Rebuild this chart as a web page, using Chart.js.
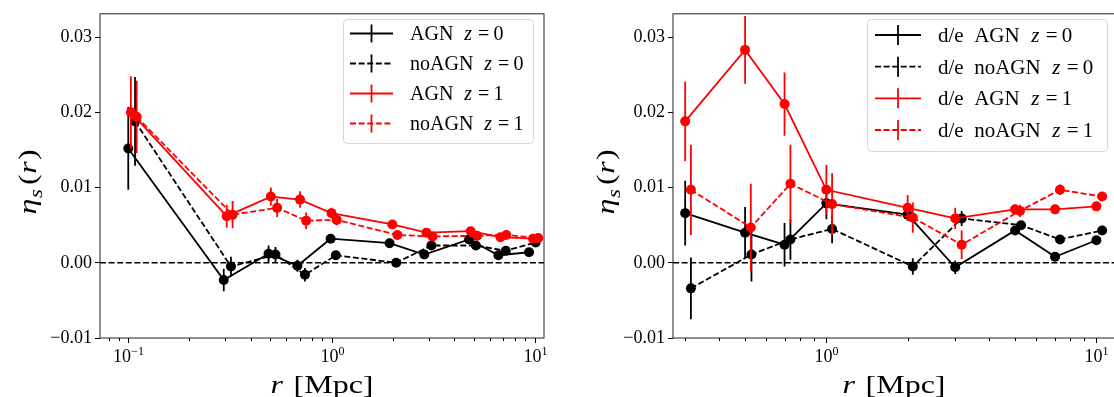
<!DOCTYPE html>
<html>
<head>
<meta charset="utf-8">
<script src="https://cdn.jsdelivr.net/npm/chart.js@4.4.1/dist/chart.umd.min.js"></script>
<style>
  html, body { margin: 0; padding: 0; background: #fff; overflow: hidden; width: 1114px; height: 397px; }
  #stage { position: relative; width: 1114px; height: 397px; overflow: hidden; }
  #leftPanel { position: absolute; left: 0; top: 0; }
  #rightPanel { position: absolute; left: 557px; top: 0; }
</style>
</head>
<body>
<div id="stage">
  <canvas id="leftPanel" width="557" height="397"></canvas>
  <canvas id="rightPanel" width="563" height="397"></canvas>
</div>
<script>
// ---- Left panel: eta_s(r), AGN vs noAGN at z=0 and z=1 ----
const leftAgnZ0R    = [0.100, 0.295, 0.49, 0.68, 0.99, 1.93, 2.86, 4.75, 6.62, 9.37];
const leftAgnZ0Eta  = [0.0152, -0.0023, 0.0012, -0.0004, 0.0032, 0.0026, 0.0011, 0.0031, 0.0010, 0.0014];
const leftAgnZ0Err  = [0.0055, 0.0015, 0.0011, 0.0008, 0.0005, 0.0003, 0.0003, 0.0003, 0.0002, 0.0002];

const leftNoAgnZ0R   = [0.108, 0.32, 0.53, 0.74, 1.05, 2.08, 3.10, 5.13, 7.20, 10.1];
const leftNoAgnZ0Eta = [0.0188, -0.0005, 0.0011, -0.0016, 0.0010, 0.0000, 0.0023, 0.0023, 0.0016, 0.0027];
const leftNoAgnZ0Err = [0.0059, 0.0013, 0.0010, 0.0009, 0.0005, 0.0003, 0.0003, 0.0003, 0.0002, 0.0002];

const leftAgnZ1R    = [0.103, 0.305, 0.503, 0.70, 1.00, 1.99, 2.93, 4.84, 6.78, 9.80];
const leftAgnZ1Eta  = [0.0200, 0.0062, 0.0088, 0.0084, 0.0066, 0.0051, 0.0040, 0.0042, 0.0034, 0.0032];
const leftAgnZ1Err  = [0.0048, 0.0015, 0.0012, 0.0011, 0.0007, 0.0004, 0.0003, 0.0003, 0.0002, 0.0002];

const leftNoAgnZ1R   = [0.110, 0.326, 0.54, 0.75, 1.06, 2.11, 3.14, 5.20, 7.24, 10.4];
const leftNoAgnZ1Eta = [0.0194, 0.0064, 0.0073, 0.0056, 0.0057, 0.0037, 0.0035, 0.0036, 0.0037, 0.0033];
const leftNoAgnZ1Err = [0.0048, 0.0018, 0.0012, 0.0011, 0.0007, 0.0004, 0.0003, 0.0003, 0.0002, 0.0002];

// ---- Right panel: d/e samples ----
const rightAgnZ0R    = [0.30, 0.50, 0.70, 1.00, 2.00, 3.00, 5.00, 7.03, 10.0];
const rightAgnZ0Eta  = [0.0066, 0.0040, 0.0024, 0.0079, 0.0064, -0.0006, 0.0043, 0.0008, 0.0030];
const rightAgnZ0Err  = [0.0043, 0.0034, 0.0029, 0.0021, 0.0008, 0.0009, 0.0004, 0.0003, 0.0003];

const rightNoAgnZ0R   = [0.315, 0.528, 0.736, 1.05, 2.09, 3.17, 5.26, 7.33, 10.5];
const rightNoAgnZ0Eta = [-0.0034, 0.0011, 0.0031, 0.0045, -0.0005, 0.0059, 0.0050, 0.0031, 0.0043];
const rightNoAgnZ0Err = [0.0041, 0.0036, 0.0027, 0.0019, 0.0011, 0.0010, 0.0004, 0.0003, 0.0003];

const rightAgnZ1R    = [0.30, 0.50, 0.70, 1.00, 2.00, 3.00, 5.00, 7.03, 10.0];
const rightAgnZ1Eta  = [0.0188, 0.0283, 0.0211, 0.0097, 0.0073, 0.0059, 0.0071, 0.0071, 0.0075];
const rightAgnZ1Err  = [0.0053, 0.0045, 0.0042, 0.0033, 0.0017, 0.0014, 0.0006, 0.0004, 0.0004];

const rightNoAgnZ1R   = [0.315, 0.525, 0.736, 1.05, 2.09, 3.17, 5.21, 7.33, 10.5];
const rightNoAgnZ1Eta = [0.0097, 0.0047, 0.0105, 0.0078, 0.0060, 0.0024, 0.0069, 0.0097, 0.0088];
const rightNoAgnZ1Err = [0.0060, 0.0058, 0.0052, 0.0041, 0.0020, 0.0019, 0.0008, 0.0007, 0.0003];

// axis ticks and legend text
const yTickValues = [-0.01, 0.00, 0.01, 0.02, 0.03];
const leftLegendLabels  = ['AGN', 'noAGN', 'AGN', 'noAGN'];
const rightLegendLabels = ['d/e  AGN', 'd/e  noAGN', 'd/e  AGN', 'd/e  noAGN'];
const legendRedshifts   = ['0', '0', '1', '1'];

const SERIF = '"Liberation Serif", "DejaVu Serif", "Times New Roman", serif';
const BLACK = '#000000';
const RED = '#ff0000';
const DASH = [6, 2.6];
const LINE_W = 1.8;

function font(size, italic) {
  return (italic ? 'italic ' : '') + size + 'px ' + SERIF;
}

// Rich text: list of segments {t, it, size, dy} or {gap}
function richWidth(ctx, segs) {
  let w = 0;
  for (const s of segs) {
    if (s.gap) { w += s.gap; continue; }
    ctx.font = font(s.size, s.it);
    w += ctx.measureText(s.t).width;
  }
  return w;
}
// draws segments from (x, y) along the baseline; sx widens the run along its direction
function drawRich(ctx, segs, x, y, sx) {
  ctx.save();
  ctx.translate(x, y);
  ctx.scale(sx || 1, 1);
  ctx.fillStyle = '#000';
  ctx.textBaseline = 'alphabetic';
  ctx.textAlign = 'left';
  let cx = 0;
  for (const s of segs) {
    if (s.gap) { cx += s.gap; continue; }
    ctx.font = font(s.size, s.it);
    ctx.fillText(s.t, cx, s.dy || 0);
    cx += ctx.measureText(s.t).width;
  }
  ctx.restore();
}

function series(label, rs, etas, errs, color, dashed, order) {
  return {
    label,
    data: rs.map((r, i) => ({ x: r, y: etas[i] })),
    errs,
    borderColor: color,
    backgroundColor: color,
    borderWidth: LINE_W,
    borderDash: dashed ? DASH : [],
    pointRadius: 5,
    pointHoverRadius: 5,
    pointBorderWidth: 0,
    pointBackgroundColor: color,
    tension: 0,
    fill: false,
    order,
    dashedHandle: dashed
  };
}

const decor = {
  id: 'decor',
  beforeDatasetsDraw(chart) {
    const { ctx, chartArea: a, scales: { y } } = chart;
    const y0 = y.getPixelForValue(0);
    ctx.save();
    ctx.strokeStyle = '#000';
    ctx.lineWidth = 1.6;
    ctx.setLineDash(DASH);
    ctx.beginPath();
    ctx.moveTo(a.left, y0);
    ctx.lineTo(a.right, y0);
    ctx.stroke();
    ctx.restore();
  },
  beforeDatasetDraw(chart, args) {
    const { ctx, chartArea: a, scales: { x, y } } = chart;
    const ds = chart.data.datasets[args.index];
    ctx.save();
    ctx.beginPath();
    ctx.rect(a.left, a.top, a.right - a.left, a.bottom - a.top);
    ctx.clip();
    ctx.strokeStyle = ds.borderColor;
    ctx.lineWidth = LINE_W;
    ctx.setLineDash([]);
    ds.data.forEach((p, i) => {
      const px = x.getPixelForValue(p.x);
      const e = ds.errs[i];
      ctx.beginPath();
      ctx.moveTo(px, y.getPixelForValue(p.y - e));
      ctx.lineTo(px, y.getPixelForValue(p.y + e));
      ctx.stroke();
    });
    ctx.restore();
  },
  afterDraw(chart, args, o) {
    const { ctx, chartArea: a, scales: { x } } = chart;
    ctx.save();
    // frame
    ctx.strokeStyle = '#222';
    ctx.lineWidth = 1;
    ctx.setLineDash([]);
    ctx.strokeRect(a.left, a.top, a.right - a.left, a.bottom - a.top);

    // log x ticks and labels
    ctx.strokeStyle = '#000';
    const lo = Math.floor(Math.log10(x.min)), hi = Math.ceil(Math.log10(x.max));
    for (let d = lo; d <= hi; d++) {
      for (let k = 1; k <= 9; k++) {
        const v = k * Math.pow(10, d);
        if (v < x.min || v > x.max) continue;
        const px = Math.round(x.getPixelForValue(v)) + 0.5;
        const len = k === 1 ? 5 : 3;
        ctx.beginPath();
        ctx.moveTo(px, a.bottom);
        ctx.lineTo(px, a.bottom + len);
        ctx.stroke();
        if (k === 1) {
          const exp = d < 0 ? '\u2212' + Math.abs(d) : String(d);
          const segs = [
            { t: '10', size: o.tickSize },
            { t: exp, size: o.supSize, dy: -o.supRaise }
          ];
          const w = richWidth(ctx, segs);
          drawRich(ctx, segs, px - w / 2, o.xTickBaseline);
        }
      }
    }

    // x axis title: r [Mpc]
    const ts = o.titleSize, st = o.titleStretch;
    const xt = [
      { t: 'r', it: true, size: ts },
      { gap: ts * 0.33 },
      { t: '[Mpc]', size: ts }
    ];
    const xw = richWidth(ctx, xt) * st;
    drawRich(ctx, xt, (a.left + a.right) / 2 - xw / 2, o.xTitleBaseline, st);

    // y axis title: eta_s(r)
    const yt = [
      { t: '\u03B7', it: true, size: ts },
      { gap: 0.5 },
      { t: 's', it: true, size: Math.round(ts * 0.72), dy: ts * 0.24 },
      { gap: 3 },
      { t: '(', size: ts },
      { gap: 0.5 },
      { t: 'r', it: true, size: ts },
      { gap: 1 },
      { t: ')', size: ts }
    ];
    const yw = richWidth(ctx, yt) * st;
    ctx.save();
    ctx.translate(o.yTitleX, (a.top + a.bottom) / 2 + o.yTitleShift);
    ctx.rotate(-Math.PI / 2);
    drawRich(ctx, yt, -yw / 2, 0, st);
    ctx.restore();

    // legend
    const L = o.legend;
    ctx.beginPath();
    ctx.roundRect(L.x0 + 0.5, L.y0 + 0.5, L.x1 - L.x0, L.y1 - L.y0, 4);
    ctx.fillStyle = 'rgba(255,255,255,0.8)';
    ctx.fill();
    ctx.strokeStyle = '#d6d6d6';
    ctx.lineWidth = 1;
    ctx.stroke();
    chart.data.datasets.forEach((ds, i) => {
      const cy = L.rows[i];
      ctx.strokeStyle = ds.borderColor;
      ctx.lineWidth = LINE_W;
      ctx.setLineDash(ds.dashedHandle ? DASH : []);
      ctx.beginPath();
      ctx.moveTo(L.hx0, cy);
      ctx.lineTo(L.hx1, cy);
      ctx.stroke();
      ctx.setLineDash([]);
      const bx = (L.hx0 + L.hx1) / 2;
      ctx.beginPath();
      ctx.moveTo(bx, cy - L.barHalf);
      ctx.lineTo(bx, cy + L.barHalf);
      ctx.stroke();
      const fs = L.fontSize;
      const segs = [
        { t: o.legendLabels[i], size: fs },
        { gap: fs * 0.55 },
        { t: 'z', it: true, size: fs },
        { gap: fs * 0.3 },
        { t: '=', size: fs },
        { gap: fs * 0.2 },
        { t: legendRedshifts[i], size: fs }
      ];
      drawRich(ctx, segs, L.tx, cy + fs * 0.33);
    });
    ctx.restore();
  }
};

function buildChart(canvasId, datasets, cfg) {
  return new Chart(document.getElementById(canvasId), {
    type: 'line',
    data: { datasets },
    plugins: [decor],
    options: {
      responsive: false,
      devicePixelRatio: 1,
      animation: false,
      events: [],
      layout: { padding: { left: 0, top: cfg.areaTop, right: cfg.padRight, bottom: 0 } },
      plugins: {
        legend: { display: false },
        tooltip: { enabled: false },
        decor: cfg.decor
      },
      scales: {
        x: {
          type: 'logarithmic',
          min: cfg.xMin,
          max: cfg.xMax,
          ticks: { display: false },
          grid: { display: false },
          border: { display: false },
          afterFit: (s) => { s.height = cfg.xAxisHeight; }
        },
        y: {
          type: 'linear',
          min: -0.01,
          max: cfg.yMax,
          afterBuildTicks: (s) => { s.ticks = yTickValues.map(v => ({ value: v })); },
          ticks: {
            color: '#000',
            padding: 3,
            font: { family: SERIF, size: cfg.decor.tickSize },
            callback: (v) => {
              const s = Math.abs(v).toFixed(2);
              return v < -1e-9 ? '\u2212' + s : s;
            }
          },
          grid: {
            display: true,
            drawOnChartArea: false,
            drawTicks: true,
            tickLength: 5,
            tickColor: '#000',
            tickWidth: 1
          },
          border: { display: false },
          afterFit: (s) => { s.width = cfg.yAxisWidth; }
        }
      }
    }
  });
}

// Left panel
buildChart('leftPanel', [
  series('AGN z=0',   leftAgnZ0R,   leftAgnZ0Eta,   leftAgnZ0Err,   BLACK, false, 4),
  series('noAGN z=0', leftNoAgnZ0R, leftNoAgnZ0Eta, leftNoAgnZ0Err, BLACK, true,  3),
  series('AGN z=1',   leftAgnZ1R,   leftAgnZ1Eta,   leftAgnZ1Err,   RED,   false, 2),
  series('noAGN z=1', leftNoAgnZ1R, leftNoAgnZ1Eta, leftNoAgnZ1Err, RED,   true,  1)
], {
  areaTop: 7, padRight: 13, xAxisHeight: 59, yAxisWidth: 100,
  xMin: 0.0726, xMax: 11.1, yMax: 0.0331,
  decor: {
    tickSize: 18, supSize: 12, supRaise: 7, xTickBaseline: 362,
    titleSize: 25, titleStretch: 1.28, xTitleBaseline: 393, yTitleX: 36, yTitleShift: 6,
    legendLabels: leftLegendLabels,
    legend: { x0: 343, y0: 19, x1: 533, y1: 143, rows: [33.5, 63.5, 93.5, 123.5],
              hx0: 350, hx1: 393, barHalf: 9, tx: 410, fontSize: 20 }
  }
});

// Right panel
buildChart('rightPanel', [
  series('d/e AGN z=0',   rightAgnZ0R,   rightAgnZ0Eta,   rightAgnZ0Err,   BLACK, false, 4),
  series('d/e noAGN z=0', rightNoAgnZ0R, rightNoAgnZ0Eta, rightNoAgnZ0Err, BLACK, true,  3),
  series('d/e AGN z=1',   rightAgnZ1R,   rightAgnZ1Eta,   rightAgnZ1Err,   RED,   false, 2),
  series('d/e noAGN z=1', rightNoAgnZ1R, rightNoAgnZ1Eta, rightNoAgnZ1Err, RED,   true,  1)
], {
  areaTop: 7, padRight: 4, xAxisHeight: 59, yAxisWidth: 116,
  xMin: 0.2704, xMax: 11.72, yMax: 0.0331,
  decor: {
    tickSize: 18, supSize: 12, supRaise: 7, xTickBaseline: 362,
    titleSize: 25, titleStretch: 1.28, xTitleBaseline: 393, yTitleX: 57, yTitleShift: 6,
    legendLabels: rightLegendLabels,
    legend: { x0: 310, y0: 19, x1: 550, y1: 151, rows: [35, 66.7, 98.3, 130],
              hx0: 318, hx1: 364, barHalf: 10, tx: 381, fontSize: 21 }
  }
});
</script>
</body>
</html>
